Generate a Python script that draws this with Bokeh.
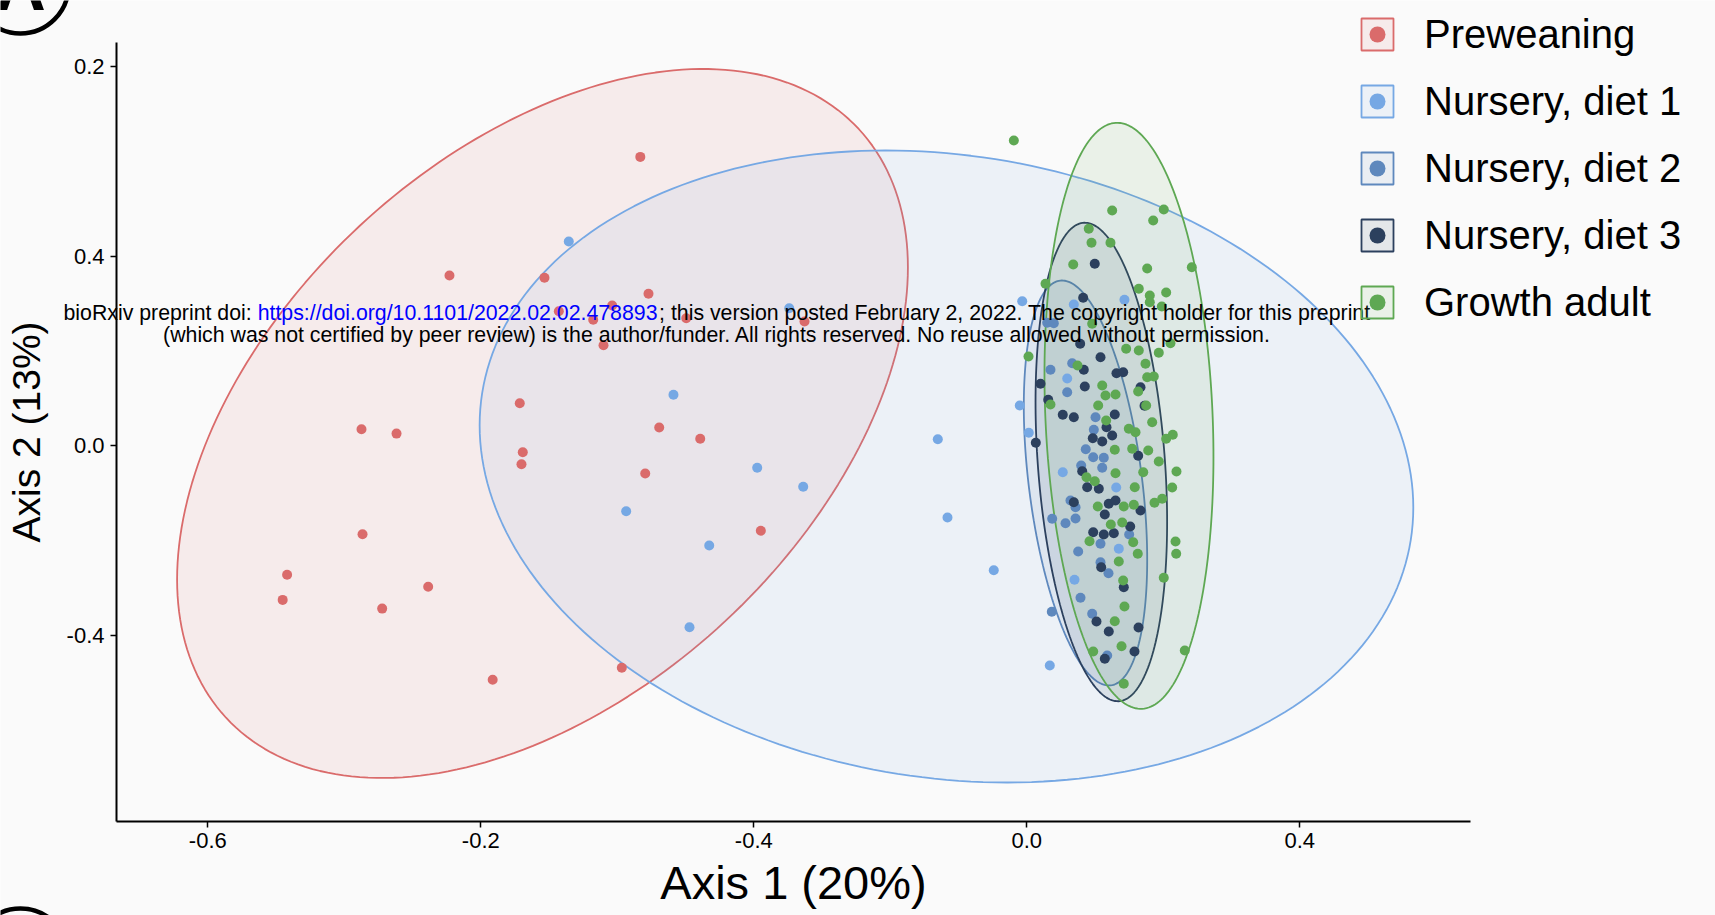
import numpy as np
from bokeh.plotting import figure
from bokeh.models import Range1d, FixedTicker, Legend, LegendItem, Label
from bokeh.embed import file_html
from bokeh.resources import INLINE
from bokeh.core.properties import value

# ---------------- data ----------------
groups = ["Preweaning", "Nursery, diet 1", "Nursery, diet 2", "Nursery, diet 3", "Growth adult"]
colors = ["#DA6B6B", "#76A8E4", "#5E88BD", "#2C405E", "#5EA853"]

pre_x = [-0.7067, -0.5543, -0.6075, -0.6857, -0.6353, -0.4990, -0.3257, -0.6202, -0.7429, -0.5386,
         -0.4785, -0.7385, -0.7404, -0.5591, -0.3897, -0.5663, -0.8459, -0.9748, -0.9235, -0.9733,
         -1.0838, -1.0903, -0.9445, -0.8771, -0.7826, -0.5934]
pre_y = [0.3544, 0.3206, 0.2959, 0.2839, 0.2657, 0.2691, 0.2622, 0.2121, 0.0897, 0.0384,
         0.0146, -0.0137, -0.0391, -0.0587, -0.1796, 0.6096, 0.3593, 0.0346, 0.0255, -0.1870,
         -0.2723, -0.3255, -0.3439, -0.2978, -0.4939, -0.4686]

d1_x = [-0.6711, -0.3481, -0.5177, -0.1304, -0.3950, -0.3276, -0.1162, -0.5870, -0.4653, -0.0484,
        -0.4942, -0.0067, 0.1431, 0.0689, 0.0592, -0.0103, 0.0029, 0.0527, 0.0337, 0.0699,
        0.1310, 0.1348]
d1_y = [0.4310, 0.2902, 0.1074, 0.0137, -0.0466, -0.0868, -0.1516, -0.1383, -0.2107, -0.2628,
        -0.3831, 0.3050, 0.3080, 0.2980, 0.1418, 0.0849, 0.0272, -0.0559, -0.4640, -0.2831,
        -0.0882, -0.2176]

d2_x = [0.0592, 0.0372, 0.0567, 0.0714, 0.0753, 0.0366, 0.0958, 0.0787, 0.0864, 0.0973,
        0.1128, 0.1105, 0.0797, 0.0640, 0.0714, 0.1080, 0.1197, 0.1080, 0.1500, 0.1178,
        0.1007, 0.0982, 0.0299, 0.0396, 0.0347, 0.0665]
d2_y = [0.1129, -0.1543, -0.1636, -0.1537, -0.2233, -0.3506, -0.3548, -0.3211, -0.0074, -0.0243,
        -0.0255, -0.0466, -0.0418, -0.1157, -0.1298, -0.2071, -0.2691, -0.2459, -0.1874, -0.4429,
        0.0602, 0.0336, 0.2594, 0.2586, 0.1602, 0.1741]

d3_x = [0.0996, 0.0826, 0.0782, 0.1080, 0.0835, 0.1314, 0.1412, 0.0201, 0.0850, 0.1666,
        0.0314, 0.0527, 0.0689, 0.1289, 0.0132, 0.0967, 0.1105, 0.1251, 0.1168, 0.1725,
        0.1632, 0.0812, 0.0885, 0.1055, 0.0689, 0.1201, 0.1300, 0.1143, 0.1666, 0.0973,
        0.1128, 0.1275, 0.1515, 0.1090, 0.1421, 0.1021, 0.1201, 0.1637, 0.1143, 0.1578]
d3_y = [0.3840, 0.3122, 0.2151, 0.1868, 0.1602, 0.1530, 0.1551, 0.1307, 0.1250, 0.1235,
        0.0969, 0.0652, 0.0602, 0.0659, 0.0061, 0.0158, 0.0089, 0.0215, 0.0391, 0.0842,
        -0.0213, -0.0538, -0.0876, -0.0910, -0.1193, -0.1226, -0.1157, -0.1452, -0.1368, -0.1826,
        -0.1874, -0.1847, -0.1706, -0.2565, -0.2987, -0.3711, -0.3922, -0.3837, -0.4498, -0.4344]

ga_x = [-0.0190, 0.1251, 0.2007, 0.1852, 0.0908, 0.0948, 0.1226, 0.0680, 0.1764, 0.2418,
        0.0274, 0.1641, 0.1802, 0.2042, 0.1802, 0.1978, 0.0958, 0.2105, 0.1456, 0.1641,
        0.1934, 0.0025, 0.0743, 0.1739, 0.1105, 0.1764, 0.1861, 0.1153, 0.1300, 0.0347,
        0.1046, 0.1632, 0.1749, 0.1837, 0.1163, 0.1495, 0.1593, 0.2042, 0.2139, 0.1289,
        0.1544, 0.1779, 0.1934, 0.2193, 0.1706, 0.1300, 0.0875, 0.0996, 0.1582, 0.2130,
        0.1040, 0.1421, 0.1568, 0.1871, 0.1984, 0.1231, 0.1398, 0.0919, 0.1559, 0.1626,
        0.2179, 0.2189, 0.1348, 0.2007, 0.1412, 0.1431, 0.1289, 0.1388, 0.0973, 0.2315,
        0.1421]
ga_y = [0.6442, 0.4965, 0.4986, 0.4753, 0.4578, 0.4283, 0.4283, 0.3825, 0.3740, 0.3768,
        0.3417, 0.3312, 0.3170, 0.3234, 0.3029, 0.2938, 0.2573, 0.2164, 0.2045, 0.2009,
        0.1961, 0.1883, 0.1693, 0.1729, 0.1271, 0.1446, 0.1461, 0.1060, 0.1081, 0.0870,
        0.0849, 0.1144, 0.0849, 0.0496, 0.0532, 0.0357, 0.0285, 0.0146, 0.0230, -0.0087,
        -0.0065, -0.0101, -0.0334, -0.0545, -0.0559, -0.0580, -0.0665, -0.0749, -0.0876, -0.0882,
        -0.1283, -0.1283, -0.1247, -0.1205, -0.1121, -0.1663, -0.1621, -0.2016, -0.2037, -0.2282,
        -0.2022, -0.2282, -0.2444, -0.2788, -0.2845, -0.3394, -0.3704, -0.4232, -0.4344, -0.4323,
        -0.5026]

# confidence ellipses: centre, half extent along x and y, correlation
ell_cx = [-0.7096, -0.1177, 0.0860, 0.1092, 0.1497]
ell_cy = [0.0469, -0.0439, -0.0787, -0.0344, 0.0631]
ell_rx = [0.5354, 0.6840, 0.0904, 0.0964, 0.1238]
ell_ry = [0.7483, 0.6670, 0.4274, 0.5050, 0.6185]
ell_rho = [0.44, -0.13, -0.38, -0.25, -0.14]

x_tick_values = [-1.2, -0.8, -0.4, 0.0, 0.4]
x_tick_labels = ["-0.6", "-0.2", "-0.4", "0.0", "0.4"]
y_tick_values = [0.8, 0.4, 0.0, -0.4]
y_tick_labels = ["0.2", "0.4", "0.0", "-0.4"]

# extent of the panel (axis lines)
panel_x = (-1.33377, 0.65011)
panel_y = (-0.79324, 0.85108)

x_title = "Axis 1 (20%)"
y_title = "Axis 2 (13%)"

wm_part1 = "bioRxiv preprint doi: "
wm_link = "https://doi.org/10.1101/2022.02.02.478893"
wm_part3 = "; this version posted February 2, 2022. The copyright holder for this preprint"
wm_line2 = "(which was not certified by peer review) is the author/funder. All rights reserved. No reuse allowed without permission."

# cropped panel letter circles at the page's left edge
panel_letter = "A"
letter_x = [-1.4744, -1.4744]
letter_y = [0.9714, -1.0782]

xs_all = [pre_x, d1_x, d2_x, d3_x, ga_x]
ys_all = [pre_y, d1_y, d2_y, d3_y, ga_y]

FONT = "Liberation Sans"
BG = "#fafafa"

p = figure(frame_width=1715, frame_height=915,
           min_border_left=0, min_border_right=0, min_border_top=0, min_border_bottom=0,
           x_range=Range1d(-1.50374, 1.00909), y_range=Range1d(-0.99166, 0.93974),
           output_backend="svg", toolbar_location=None,
           background_fill_color=BG, border_fill_color=BG)
p.outline_line_color = None
p.grid.visible = False

# ellipses
t = np.linspace(0, 2 * np.pi, 241)
patch_rs = []
for i in range(len(groups)):
    phi = np.arcsin(ell_rho[i])
    ex = ell_cx[i] + ell_rx[i] * np.cos(t)
    ey = ell_cy[i] + ell_ry[i] * np.sin(t + phi)
    r = p.patch(ex, ey, fill_color=colors[i], fill_alpha=0.1,
                line_color=colors[i], line_width=1.8)
    patch_rs.append(r)

# points
scatter_rs = []
for i in range(len(groups)):
    r = p.scatter(xs_all[i], ys_all[i], size=10, color=colors[i], line_color=None)
    scatter_rs.append(r)

# panel letter (cut by the page edge)
p.scatter(letter_x, letter_y, size=96, marker="circle", fill_color=None,
          line_color="black", line_width=4.5)
p.text(x=letter_x[:1], y=letter_y[:1], text=[panel_letter], text_font=value(FONT),
       text_font_size="70px", text_font_style="bold", text_align="center",
       text_baseline="middle", text_color="black")

# axes fixed at the panel's edges
p.xaxis[0].fixed_location = panel_y[0]
p.xaxis[0].bounds = panel_x
p.yaxis[0].fixed_location = panel_x[0]
p.yaxis[0].bounds = panel_y
for ax, vals, labs in ((p.xaxis[0], x_tick_values, x_tick_labels),
                       (p.yaxis[0], y_tick_values, y_tick_labels)):
    ax.ticker = FixedTicker(ticks=vals, minor_ticks=[])
    ax.major_label_overrides = {v: l for v, l in zip(vals, labs)}
    ax.axis_line_color = "black"
    ax.axis_line_width = 2
    ax.major_tick_line_color = "black"
    ax.major_tick_line_width = 1.5
    ax.major_tick_in = 0
    ax.major_tick_out = 6
    ax.minor_tick_line_color = None
    ax.major_label_text_font = FONT
    ax.major_label_text_font_size = "22px"
    ax.major_label_text_color = "black"
    ax.axis_label_text_font = FONT
    ax.axis_label_text_font_style = "normal"
    ax.axis_label_text_color = "black"

p.xaxis[0].axis_label = x_title
p.xaxis[0].axis_label_text_font_size = "47px"
p.xaxis[0].major_label_standoff = 6
p.xaxis[0].axis_label_standoff = 4
p.yaxis[0].axis_label = y_title
p.yaxis[0].axis_label_text_font_size = "39px"
p.yaxis[0].major_label_standoff = 6
p.yaxis[0].axis_label_standoff = 16

# legend
items = [LegendItem(label=groups[i], renderers=[patch_rs[i], scatter_rs[i]]) for i in range(len(groups))]
legend = Legend(items=items, location=(1357, 590), orientation="vertical",
                glyph_width=40, glyph_height=40, label_height=46, label_standoff=27, spacing=21,
                padding=0, margin=0, border_line_color=None, background_fill_alpha=0,
                label_text_font=FONT, label_text_font_size="40px", label_text_color="black")
p.add_layout(legend, "center")

# watermark
W = {' ': 278, '!': 278, '%': 889, '(': 333, ')': 333, ',': 278, '-': 333, '.': 278, '/': 278,
     ':': 278, ';': 278, 'A': 667, 'B': 667, 'C': 722, 'D': 722, 'E': 667, 'F': 611, 'G': 778,
     'H': 722, 'I': 278, 'N': 722, 'P': 667, 'R': 722, 'T': 611, 'a': 556, 'b': 556, 'c': 500,
     'd': 556, 'e': 556, 'f': 278, 'g': 556, 'h': 556, 'i': 222, 'j': 222, 'k': 500, 'l': 222,
     'm': 833, 'n': 556, 'o': 556, 'p': 556, 'q': 556, 'r': 333, 's': 500, 't': 278, 'u': 556,
     'v': 500, 'w': 722, 'x': 500, 'y': 500, 'z': 500}


def tw(s, size):
    return sum(W.get(c, 556) for c in s) / 1000.0 * size


WM_SIZE = 21.3
x0 = 63.0
y1 = 602.8
y2 = 581.0
w1 = tw(wm_part1, WM_SIZE)
w2 = tw(wm_link, WM_SIZE)
w3 = tw(wm_part3, WM_SIZE)
for txt, xx, col in ((wm_part1, x0, "black"), (wm_link, x0 + w1, "#0000ff"), (wm_part3, x0 + w1 + w2, "black")):
    p.add_layout(Label(x=xx, y=y1, x_units="screen", y_units="screen", text=txt,
                       text_font=FONT, text_font_size=f"{WM_SIZE}px", text_color=col,
                       text_align="left", text_baseline="alphabetic"))
p.add_layout(Label(x=x0 + (w1 + w2 + w3) / 2, y=y2, x_units="screen", y_units="screen", text=wm_line2,
                   text_font=FONT, text_font_size=f"{WM_SIZE}px", text_color="black",
                   text_align="center", text_baseline="alphabetic"))

open("out.html", "w").write(file_html(p, INLINE))
